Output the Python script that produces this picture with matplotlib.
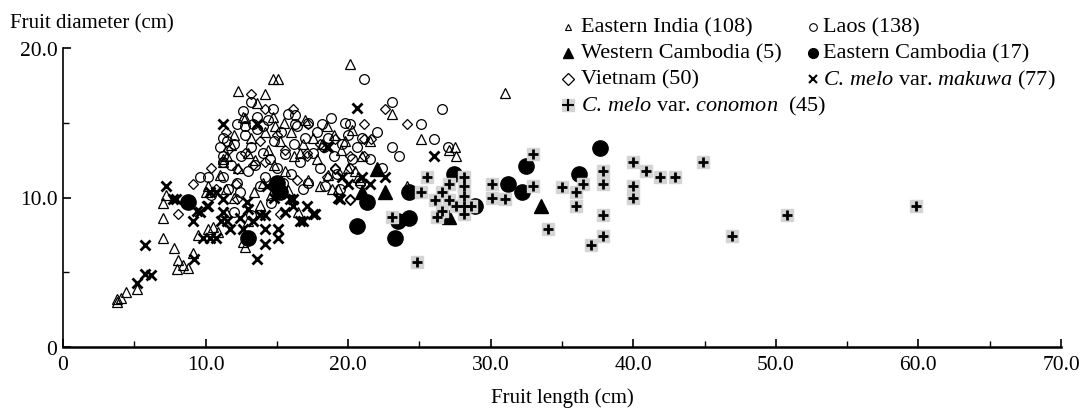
import matplotlib
matplotlib.use("Agg")
import matplotlib.pyplot as plt
import numpy as np
from matplotlib.lines import Line2D
from matplotlib.ticker import MultipleLocator

plt.rcParams["font.family"] = ["Liberation Serif", "DejaVu Serif"]
plt.rcParams["mathtext.fontset"] = "custom"
plt.rcParams["mathtext.rm"] = "Liberation Serif"
plt.rcParams["mathtext.it"] = "Liberation Serif:italic"

# (fruit length, fruit diameter) in cm
india = np.array([
    [3.8, 3.2], [3.8, 3.0], [4.1, 3.3], [4.4, 3.7], [5.2, 3.9],
    [7.0, 7.3], [7.8, 6.6], [8.1, 5.8], [8.4, 5.5], [8.0, 5.2], [8.8, 5.3],
    [9.1, 6.3], [7.0, 8.6], [7.0, 9.6], [7.2, 10.2], [10.9, 7.7], [10.2, 7.9],
    [12.8, 6.7], [9.5, 7.5], [10.0, 10.4], [11.4, 10.6], [11.2, 12.6],
    [12.3, 17.1], [14.7, 17.9], [15.1, 17.9], [13.6, 16.3], [14.2, 16.9],
    [12.6, 15.4], [14.7, 15.4], [14.9, 14.8], [20.1, 18.9], [23.1, 15.6],
    [25.1, 13.9], [27.1, 13.2], [27.5, 13.4], [27.6, 12.8], [31.0, 17.0],
    [10.5, 8.0], [11.0, 11.5], [11.5, 12.8], [11.8, 13.5], [12.0, 14.2],
    [12.3, 12.0], [12.6, 7.0], [13.0, 13.0], [13.2, 14.0], [13.5, 12.5],
    [13.8, 9.5], [14.0, 11.0], [14.4, 13.2], [14.8, 12.2], [15.2, 13.8],
    [15.6, 11.8], [16.0, 14.4], [16.2, 12.8], [16.5, 9.0], [16.8, 13.6],
    [17.2, 11.2], [17.5, 14.0], [17.8, 12.6], [18.2, 13.6], [18.6, 11.5],
    [19.0, 14.2], [19.5, 13.2], [20.0, 12.0], [20.3, 14.5], [20.8, 11.2],
    [21.0, 12.8], [11.4, 9.0], [12.0, 10.0], [13.0, 8.4], [14.6, 10.2],
    [15.8, 10.5], [10.2, 10.8], [12.8, 15.3], [15.5, 15.0], [17.0, 15.2],
    [18.5, 14.8], [19.8, 13.8], [21.5, 13.8], [20.5, 11.8], [11.2, 12.4],
    [18.0, 10.8], [16.6, 13.0], [14.2, 14.4], [13.4, 10.4], [24.1, 10.8],
    [20.7, 11.4], [19.3, 10.6], [18.9, 10.6],
])

laos = np.array([
    [21.1, 17.9], [26.6, 15.9], [23.1, 16.4], [25.1, 14.9], [26.0, 13.9],
    [23.1, 13.4], [23.6, 12.8], [27.0, 13.4], [13.2, 16.4], [14.7, 15.9],
    [16.3, 15.5], [12.2, 14.9], [12.8, 14.8], [13.3, 14.9], [14.0, 14.8],
    [16.3, 14.9], [18.2, 14.9], [20.1, 14.9], [9.6, 11.4], [10.2, 11.4],
    [11.2, 11.4], [11.2, 14.0], [11.2, 12.4], [11.0, 13.4], [11.2, 12.8],
    [11.5, 13.8], [11.8, 12.2], [12.0, 13.6], [12.2, 11.0], [12.5, 12.8],
    [12.8, 14.2], [13.0, 11.8], [13.2, 13.4], [13.5, 12.2], [13.6, 14.6],
    [14.0, 13.0], [14.2, 11.4], [14.5, 12.6], [14.8, 13.8], [15.0, 12.0],
    [15.3, 14.4], [15.6, 12.9], [16.0, 11.6], [16.2, 13.6], [16.6, 12.4],
    [17.0, 14.0], [17.2, 11.0], [17.5, 13.0], [17.8, 14.4], [18.0, 12.0],
    [18.3, 13.4], [18.6, 14.0], [19.0, 12.8], [19.2, 11.6], [19.6, 13.6],
    [20.0, 14.2], [20.3, 12.6], [20.6, 13.4], [21.0, 14.0], [21.5, 12.6],
    [22.0, 14.4], [19.8, 15.0], [18.8, 15.3], [17.2, 15.0], [15.8, 15.6],
    [14.4, 15.2], [13.6, 15.4], [12.4, 10.4], [13.8, 10.8], [15.4, 11.0],
    [16.8, 10.6], [18.4, 10.8], [12.0, 9.0], [13.2, 8.8], [14.6, 9.6],
    [10.4, 10.2], [11.6, 10.6], [19.4, 10.6], [20.8, 11.0], [22.4, 12.0],
    [16.4, 14.8], [12.6, 15.8],
])

w_cambodia = np.array([
    [22.0, 11.9], [21.0, 10.4], [22.6, 10.4], [27.1, 8.7], [33.5, 9.4],
])

e_cambodia = np.array([
    [8.8, 9.7], [15.0, 11.0], [15.2, 10.4], [13.0, 7.3], [20.6, 8.1],
    [21.3, 9.7], [23.3, 7.3], [23.5, 8.4], [24.3, 8.6], [24.3, 10.4],
    [27.4, 11.6], [28.9, 9.4], [32.5, 12.1], [31.2, 10.9], [32.2, 10.4],
    [36.2, 11.6], [37.7, 13.3],
])

vietnam = np.array([
    [22.6, 15.9], [24.1, 14.9], [13.2, 16.9], [14.2, 15.9], [16.1, 15.9],
    [17.2, 14.9], [8.1, 8.9], [9.1, 10.9], [12.2, 9.9], [15.2, 8.9],
    [20.1, 9.9], [10.7, 10.6], [12.1, 10.9], [12.2, 11.9], [13.3, 12.2],
    [18.5, 11.4], [17.1, 13.0], [21.1, 14.9], [21.1, 13.9], [21.6, 13.9],
    [19.1, 13.9], [21.1, 12.8], [20.1, 12.8], [19.1, 12.0], [20.1, 12.0],
    [17.1, 12.8], [20.1, 9.8], [19.1, 11.9], [11.6, 13.2], [14.2, 12.4],
    [15.6, 13.2], [16.4, 11.2], [13.8, 13.8], [10.4, 12.0], [12.8, 13.0],
    [18.0, 13.6], [15.0, 14.2], [11.4, 14.4],
])

makuwa = np.array([
    [5.2, 4.3], [5.75, 4.9], [6.2, 4.8], [5.75, 6.8], [9.2, 5.9], [7.2, 10.8],
    [7.7, 9.9], [9.1, 8.4], [9.6, 9.0], [10.2, 9.4], [11.2, 9.0], [11.1, 8.4],
    [9.8, 7.3], [10.3, 7.3], [10.7, 7.3], [11.7, 7.9], [12.6, 7.9], [13.3, 8.4],
    [14.2, 8.8], [14.2, 7.9], [14.2, 6.9], [13.6, 5.9], [15.1, 7.9], [15.1, 7.3],
    [16.1, 9.9], [16.1, 9.4], [16.6, 8.4], [17.7, 8.9], [17.1, 9.4], [19.4, 9.9],
    [11.2, 9.9], [10.3, 10.4], [13.6, 14.9], [18.5, 13.4], [19.6, 11.4],
    [20.0, 10.9], [17.5, 8.9], [19.3, 10.0], [15.9, 9.9], [14.3, 10.8],
    [13.8, 8.8], [11.5, 8.4], [12.9, 9.7], [22.6, 11.4], [21.0, 11.4],
    [26.0, 12.8], [18.6, 13.4], [21.5, 10.9], [16.8, 8.4], [7.9, 9.9],
    [9.4, 9.1], [10.1, 9.4], [10.7, 10.4], [11.2, 14.9], [20.6, 16.0],
    [12.4, 8.6], [13.0, 9.2], [15.6, 9.0], [14.8, 10.0],
])

conomon = np.array([
    [25.5, 11.4], [25.1, 10.4], [26.1, 9.8], [26.6, 10.4], [27.1, 10.9],
    [27.1, 9.8], [28.1, 11.4], [28.1, 10.8], [28.1, 10.1], [27.6, 9.4],
    [28.1, 9.4], [28.6, 9.4], [28.1, 8.9], [26.6, 9.1], [26.2, 8.7],
    [23.1, 8.7], [24.8, 5.7], [30.1, 10.9], [30.1, 10.0], [33.0, 12.9],
    [31.0, 9.9], [33.0, 10.8], [34.0, 7.9], [35.0, 10.7], [36.0, 10.4],
    [36.5, 10.9], [36.0, 9.4], [37.9, 11.8], [37.9, 10.9], [37.9, 8.8],
    [37.9, 7.4], [37.0, 6.8], [40.0, 12.4], [40.0, 10.8], [40.0, 10.0],
    [40.9, 11.8], [41.9, 11.4], [42.9, 11.4], [44.9, 12.4], [46.9, 7.4],
    [50.8, 8.8], [59.8, 9.4],
])

x_ticks = [0, 10, 20, 30, 40, 50, 60, 70]
x_tick_labels = ["0", "10.0", "20.0", "30.0", "40.0", "50.0", "60.0", "70.0"]
y_ticks = [0, 10, 20]
y_tick_labels = ["0", "10.0", "20.0"]

W, H = 1083, 410
fig = plt.figure(figsize=(W / 100, H / 100), dpi=100)
ax = fig.add_axes([63 / W, 62 / H, 998 / W, 299 / H])

grey = "#d4d4d4"
ax.plot(india[:, 0], india[:, 1], "^", ms=6.5, mfc="none", mec="black", mew=0.9, ls="none")
ax.plot(laos[:, 0], laos[:, 1], "o", ms=7, mfc="none", mec="black", mew=0.9, ls="none")
ax.plot(w_cambodia[:, 0], w_cambodia[:, 1], "^", ms=10, color="black", ls="none")
ax.plot(e_cambodia[:, 0], e_cambodia[:, 1], "o", ms=11, color="black", ls="none")
ax.plot(vietnam[:, 0], vietnam[:, 1], "D", ms=5.5, mfc="none", mec="black", mew=0.9, ls="none")
ax.plot(makuwa[:, 0], makuwa[:, 1], "x", ms=6.5, color="black", mew=2, ls="none")
ax.plot(conomon[:, 0], conomon[:, 1], "s", ms=9, color=grey, ls="none")
ax.plot(conomon[:, 0], conomon[:, 1], "+", ms=7.5, color="black", mew=2, ls="none")

ax.set_xlim(0, 70)
ax.set_ylim(0, 20)
ax.spines["top"].set_visible(False)
ax.spines["right"].set_visible(False)
ax.spines["bottom"].set_linewidth(1.8)
ax.spines["left"].set_linewidth(1.2)
ax.set_xticks(x_ticks)
ax.set_xticklabels(x_tick_labels)
ax.set_yticks(y_ticks)
ax.set_yticklabels(y_tick_labels)
ax.xaxis.set_minor_locator(MultipleLocator(5))
ax.yaxis.set_minor_locator(MultipleLocator(5))
ax.tick_params(which="major", direction="in", length=6, width=1.2, labelsize=15.5, pad=6)
ax.tick_params(which="minor", direction="in", length=4, width=1.0)
ax.tick_params(axis="y", pad=4)

fig.text(562 / W, 1 - 398 / H, "Fruit length (cm)", ha="center", va="center", fontsize=15)
fig.text(10 / W, 1 - 24 / H, "Fruit diameter (cm)", ha="left", va="center", fontsize=15)

# hand-placed legend: (marker x px, text x px, row y px)
legend_rows = [
    (568, 581, 28, "Eastern India (108)",
     [dict(marker="^", ms=5, mfc="none", mec="black", mew=0.8)]),
    (813, 823, 28, "Laos (138)",
     [dict(marker="o", ms=5.5, mfc="none", mec="black", mew=0.8)]),
    (568, 581, 54, "Western Cambodia (5)",
     [dict(marker="^", ms=7, color="black")]),
    (813, 823, 54, "Eastern Cambodia (17)",
     [dict(marker="o", ms=7, color="black")]),
    (568, 581, 80, "Vietnam (50)",
     [dict(marker="D", ms=6, mfc="none", mec="black", mew=0.9)]),
    (813, 823, 80, r"$\mathit{C.\,melo}$ var. $\mathit{makuwa}$ (77)",
     [dict(marker="x", ms=5.5, color="black", mew=1.5)]),
    (568, 581, 106, r"$\mathit{C.\,melo}$ var. $\mathit{conomon}$  (45)",
     [dict(marker="s", ms=9, color=grey),
      dict(marker="+", ms=8, color="black", mew=1.5)]),
]
for mx, tx, ry, label, styles in legend_rows:
    for st in styles:
        fig.add_artist(Line2D([mx / W], [1 - ry / H], transform=fig.transFigure,
                              ls="none", **st))
    fig.text(tx / W, 1 - ry / H, label, ha="left", va="center", fontsize=16)

plt.savefig("out.png", dpi=100)
